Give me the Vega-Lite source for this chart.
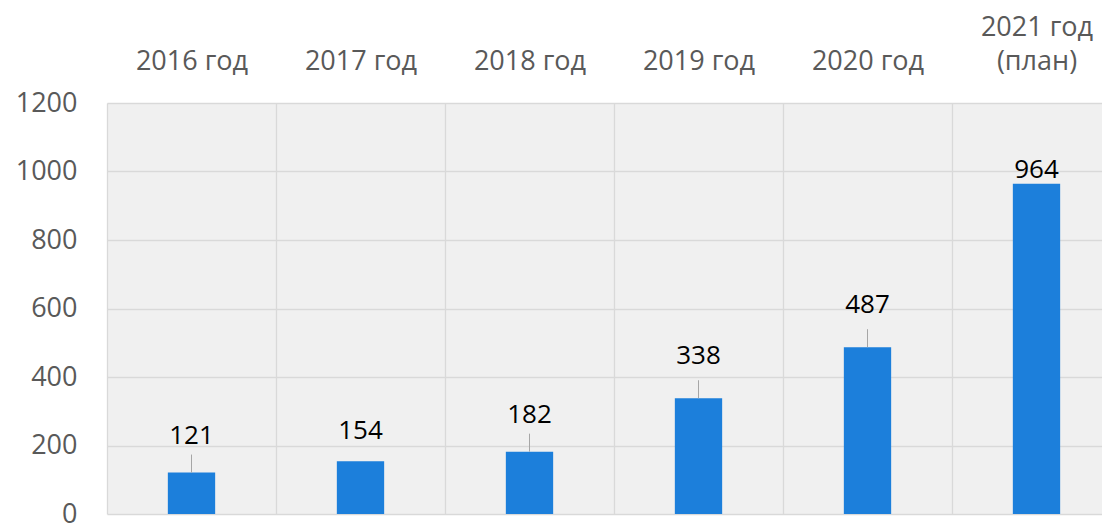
{
  "$schema": "https://vega.github.io/schema/vega-lite/v6.json",
  "autosize": "none",
  "width": 995,
  "height": 411,
  "padding": {"left": 107, "top": 103, "right": 0, "bottom": 11},
  "background": "white",
  "config": {
    "view": {"fill": "#f0f0f0", "stroke": null},
    "font": "Open Sans"
  },
  "data": {
    "values": [
      {"year": "2016 год", "value": 121},
      {"year": "2017 год", "value": 154},
      {"year": "2018 год", "value": 182},
      {"year": "2019 год", "value": 338},
      {"year": "2020 год", "value": 487},
      {"year": "2021 год (план)", "value": 964}
    ]
  },
  "encoding": {
    "x": {
      "field": "year",
      "type": "nominal",
      "sort": null,
      "scale": {"paddingInner": 0, "paddingOuter": 0, "range": [0, 1014]},
      "axis": {
        "orient": "top",
        "title": null,
        "domain": false,
        "ticks": false,
        "labelAngle": 0,
        "labelFont": "Open Sans",
        "labelFontSize": 27,
        "labelColor": "#595959",
        "labelPadding": 62,
        "labelLineHeight": 34,
        "labelBaseline": "bottom",
        "labelExpr": "datum.label == '2021 год (план)' ? ['2021 год', '(план)'] : ['', datum.label]",
        "grid": true,
        "tickBand": "extent",
        "gridColor": "#d9d9d9",
        "gridWidth": 1.3
      }
    },
    "y": {
      "field": "value",
      "type": "quantitative",
      "scale": {"domain": [0, 1200], "nice": false},
      "axis": {
        "title": null,
        "domain": false,
        "ticks": false,
        "format": "d",
        "values": [0, 200, 400, 600, 800, 1000, 1200],
        "labelFont": "Open Sans",
        "labelFontSize": 27,
        "labelColor": "#595959",
        "labelPadding": 30,
        "gridColor": "#d9d9d9",
        "gridWidth": 1.3
      }
    }
  },
  "layer": [
    {
      "mark": {"type": "bar", "color": "#1c7fdb", "width": {"band": 0.28}}
    },
    {
      "transform": [{"filter": "indexof(['2016 год','2018 год','2019 год','2020 год'], datum.year) >= 0"}],
      "mark": {"type": "point", "shape": "M0,0L0,-1", "size": 1296, "filled": false, "stroke": "#a6a6a6", "strokeWidth": 1, "opacity": 1}
    },
    {
      "transform": [{"filter": "indexof(['2016 год','2018 год'], datum.year) >= 0"}],
      "mark": {"type": "text", "dy": -37, "fontSize": 26, "font": "Open Sans", "color": "#000000", "baseline": "middle"},
      "encoding": {"text": {"field": "value", "type": "quantitative"}}
    },
    {
      "transform": [{"filter": "indexof(['2019 год','2020 год'], datum.year) >= 0"}],
      "mark": {"type": "text", "dy": -42, "fontSize": 26, "font": "Open Sans", "color": "#000000", "baseline": "middle"},
      "encoding": {"text": {"field": "value", "type": "quantitative"}}
    },
    {
      "transform": [{"filter": "datum.year == '2017 год'"}],
      "mark": {"type": "text", "dy": -30, "fontSize": 26, "font": "Open Sans", "color": "#000000", "baseline": "middle"},
      "encoding": {"text": {"field": "value", "type": "quantitative"}}
    },
    {
      "transform": [{"filter": "datum.year == '2021 год (план)'"}],
      "mark": {"type": "text", "dy": -14, "fontSize": 26, "font": "Open Sans", "color": "#000000", "baseline": "middle"},
      "encoding": {"text": {"field": "value", "type": "quantitative"}}
    }
  ]
}
